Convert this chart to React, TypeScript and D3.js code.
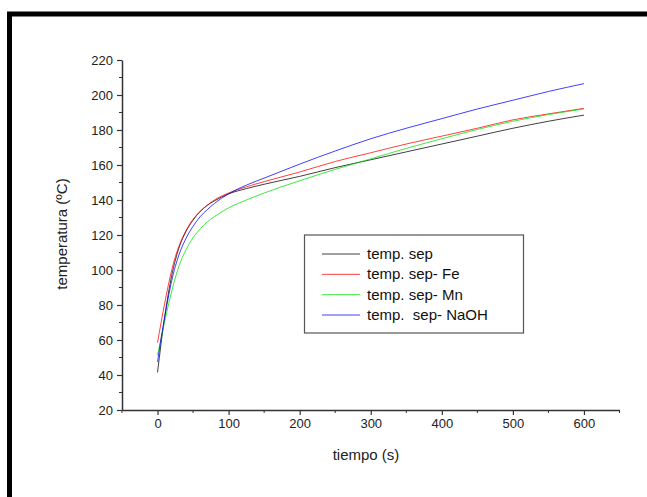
import * as d3 from "d3";
import { useRef, useEffect } from "react";

// tiempo (s)
const times = [0, 5, 10, 15, 20, 25, 30, 40, 50, 60, 70, 80, 100, 125, 150, 200, 250, 300, 350, 400, 450, 500, 550, 600];

const tempSep = [41.5, 58, 73, 86, 97, 105.5, 112.5, 122, 128.5, 133.5, 137, 139.5, 143.5, 146.5, 149, 153.5, 158.5, 163, 167.5, 172, 176.5, 181, 185, 188.5];
const tempFe = [58.5, 70, 81, 91, 100, 107.5, 113.5, 122.5, 129, 133.5, 137, 140, 144, 147.5, 150.5, 156, 162, 167, 172, 176.5, 181, 185.8, 189.2, 192.4];
const tempMn = [51.3, 61, 70.5, 79.5, 88, 95.5, 102, 111.5, 118.5, 123.5, 127.5, 130.5, 135.5, 140, 144, 151, 157.5, 163.5, 169.5, 175, 180.3, 185, 188.8, 192];
const tempNaOH = [47.5, 61, 73, 84, 94, 102, 108.5, 118, 125, 130.5, 134.5, 138, 143.5, 148.5, 152.5, 160.5, 168, 175, 181, 186.5, 192, 197, 202, 206.5];

const seriesNames = ["temp. sep", "temp. sep- Fe", "temp. sep- Mn", "temp.  sep- NaOH"];
const seriesColors = ["#000000", "#ff0000", "#00e000", "#0000ff"];
const seriesValues = [tempSep, tempFe, tempMn, tempNaOH];

const yTicks = [20, 40, 60, 80, 100, 120, 140, 160, 180, 200, 220];
const xTicks = [0, 100, 200, 300, 400, 500, 600];

export default function App({ width = 647, height = 497 }) {
  const svgRef = useRef<SVGSVGElement>(null);

  useEffect(() => {
    const svg = d3.select(svgRef.current);
    svg.selectAll("*").remove();

    const font = "'Liberation Sans', Arial, sans-serif";

    svg.append("rect")
      .attr("width", width).attr("height", height).attr("fill", "white");

    // outer frame
    svg.append("rect")
      .attr("x", 9.5).attr("y", 14)
      .attr("width", 720).attr("height", 600)
      .attr("fill", "none").attr("stroke", "#000").attr("stroke-width", 5);

    const x = d3.scaleLinear().domain([-50, 650]).range([122, 619.5]);
    const y = d3.scaleLinear().domain([20, 220]).range([410, 60]);

    // minor ticks
    const minorY = d3.range(30, 220, 20);
    const minorX = d3.range(-50, 651, 100);

    const yAxis = svg.append("g")
      .attr("transform", `translate(${x(-50)},0)`)
      .call(d3.axisLeft(y).tickValues(yTicks).tickSize(5).tickSizeOuter(0).tickPadding(4));
    yAxis.append("g").selectAll("line").data(minorY).join("line")
      .attr("x1", -3).attr("x2", 0)
      .attr("y1", (d) => y(d)).attr("y2", (d) => y(d))
      .attr("stroke", "#333");

    const xAxis = svg.append("g")
      .attr("transform", `translate(0,${y(20)})`)
      .call(d3.axisBottom(x).tickValues(xTicks).tickSize(5).tickSizeOuter(0).tickPadding(4));
    xAxis.append("g").selectAll("line").data(minorX).join("line")
      .attr("y1", 0).attr("y2", 3)
      .attr("x1", (d) => x(d)).attr("x2", (d) => x(d))
      .attr("stroke", "#333");

    [yAxis, xAxis].forEach((g) => {
      g.select(".domain").attr("stroke", "#333").attr("stroke-width", 1.5);
      g.selectAll(".tick line").attr("stroke", "#333").attr("stroke-width", 1.2);
      g.selectAll("text")
        .attr("fill", "#222")
        .style("font-family", font)
        .style("font-size", "13px");
    });

    // curves
    const line = d3.line<number>()
      .x((d, i) => x(times[i]))
      .y((d) => y(d))
      .curve(d3.curveMonotoneX);

    svg.append("g").selectAll("path").data(seriesValues).join("path")
      .attr("d", (d) => line(d))
      .attr("fill", "none")
      .attr("stroke", (d, i) => seriesColors[i])
      .attr("stroke-width", 1)
      .attr("stroke-opacity", 0.75);

    // axis titles
    svg.append("text")
      .attr("x", 366).attr("y", 460)
      .attr("text-anchor", "middle")
      .attr("fill", "#222")
      .style("font-family", font).style("font-size", "15px")
      .text("tiempo (s)");

    svg.append("text")
      .attr("transform", `translate(67,234) rotate(-90)`)
      .attr("text-anchor", "middle")
      .attr("fill", "#222")
      .style("font-family", font).style("font-size", "15px")
      .text("temperatura (ºC)");

    // legend
    const legend = svg.append("g");
    legend.append("rect")
      .attr("x", 304.5).attr("y", 235)
      .attr("width", 219).attr("height", 98)
      .attr("fill", "white").attr("stroke", "#555").attr("stroke-width", 1.2);

    const rowY = d3.scalePoint<string>().domain(seriesNames).range([254, 315]);

    legend.selectAll("line").data(seriesNames).join("line")
      .attr("x1", 322).attr("x2", 360)
      .attr("y1", (d) => rowY(d)!).attr("y2", (d) => rowY(d)!)
      .attr("stroke", (d, i) => seriesColors[i])
      .attr("stroke-opacity", 0.75);

    legend.selectAll("text").data(seriesNames).join("text")
      .attr("x", 367)
      .attr("y", (d) => rowY(d)! + 5)
      .attr("fill", "#111")
      .style("font-family", font).style("font-size", "15px")
      .style("white-space", "pre")
      .text((d) => d);
  }, [width, height]);

  return (
    <svg
      ref={svgRef}
      width={width}
      height={height}
      style={{ position: "absolute", left: 0, top: 0, display: "block" }}
    />
  );
}
